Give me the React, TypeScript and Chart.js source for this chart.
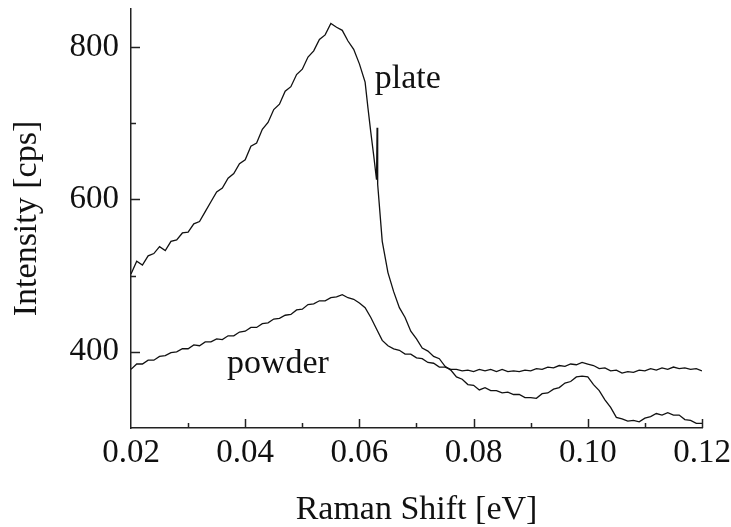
import React, { useEffect, useRef } from "react";
import { Chart, registerables } from "chart.js";

Chart.register(...registerables);

// Raman shift [eV] sampling for the "plate" spectrum (includes the narrow spike near 0.063)
const plateX = [
  0.02, 0.021, 0.022, 0.023, 0.024, 0.025, 0.026, 0.027, 0.028, 0.029,
  0.03, 0.031, 0.032, 0.033, 0.034, 0.035, 0.036, 0.037, 0.038, 0.039,
  0.04, 0.041, 0.042, 0.043, 0.044, 0.045, 0.046, 0.047, 0.048, 0.049,
  0.05, 0.051, 0.052, 0.053, 0.054, 0.055, 0.056, 0.057, 0.058, 0.059,
  0.06, 0.061, 0.0615, 0.062, 0.0625, 0.063, 0.0631, 0.0632, 0.064, 0.065,
  0.066, 0.067, 0.068, 0.069, 0.07, 0.071, 0.072, 0.073, 0.074, 0.075,
  0.076, 0.077, 0.078, 0.079, 0.08, 0.081, 0.082, 0.083, 0.084, 0.085,
  0.086, 0.087, 0.088, 0.089, 0.09, 0.091, 0.092, 0.093, 0.094, 0.095,
  0.096, 0.097, 0.098, 0.099, 0.1, 0.101, 0.102, 0.103, 0.104, 0.105,
  0.106, 0.107, 0.108, 0.109, 0.11, 0.111, 0.112, 0.113, 0.114, 0.115,
  0.116, 0.117, 0.118, 0.119, 0.12,
];
const plateY = [
  502, 519, 514, 526, 529, 538, 533, 545, 547, 556,
  557, 568, 571, 584, 597, 610, 615, 628, 634, 647,
  652, 670, 674, 692, 701, 718, 725, 742, 748, 764,
  771, 787, 795, 810, 816, 831, 826, 822, 808, 797,
  778, 754, 720, 688, 658, 626, 694, 620, 545, 504,
  479, 458, 445, 427, 417, 405, 401, 394, 391, 381,
  376, 367, 364, 357, 356, 350, 353, 349, 349, 346,
  347, 344, 344, 340, 340, 339, 345, 346, 351, 353,
  359, 361, 367, 368, 367, 357, 349, 337, 327, 314,
  312, 309, 310, 308, 313, 315, 319, 317, 320, 317,
  317, 311, 310, 306, 306,
];

// Raman shift [eV] sampling for the "powder" spectrum
const powderX = [
  0.02, 0.021, 0.022, 0.023, 0.024, 0.025, 0.026, 0.027, 0.028, 0.029,
  0.03, 0.031, 0.032, 0.033, 0.034, 0.035, 0.036, 0.037, 0.038, 0.039,
  0.04, 0.041, 0.042, 0.043, 0.044, 0.045, 0.046, 0.047, 0.048, 0.049,
  0.05, 0.051, 0.052, 0.053, 0.054, 0.055, 0.056, 0.057, 0.058, 0.059,
  0.06, 0.061, 0.062, 0.063, 0.064, 0.065, 0.066, 0.067, 0.068, 0.069,
  0.07, 0.071, 0.072, 0.073, 0.074, 0.075, 0.076, 0.077, 0.078, 0.079,
  0.08, 0.081, 0.082, 0.083, 0.084, 0.085, 0.086, 0.087, 0.088, 0.089,
  0.09, 0.091, 0.092, 0.093, 0.094, 0.095, 0.096, 0.097, 0.098, 0.099,
  0.1, 0.101, 0.102, 0.103, 0.104, 0.105, 0.106, 0.107, 0.108, 0.109,
  0.11, 0.111, 0.112, 0.113, 0.114, 0.115, 0.116, 0.117, 0.118, 0.119,
  0.12,
];
const powderY = [
  377, 384, 384, 389, 389, 394, 395, 399, 400, 404,
  404, 409, 408, 413, 413, 417, 416, 421, 421, 426,
  427, 432, 432, 437, 438, 443, 444, 448, 449, 455,
  456, 462, 463, 467, 467, 471, 472, 475, 471, 469,
  464, 458, 445, 430, 415, 408, 404, 402, 397, 397,
  392, 391, 386, 385, 380, 380, 377, 377, 375, 376,
  374, 377, 375, 377, 374, 377, 374, 375, 374, 376,
  375, 378, 377, 380, 379, 382, 381, 384, 383, 386,
  384, 382, 378, 379, 375, 376, 372, 374, 373, 376,
  375, 378, 376, 379, 377, 380, 378, 379, 377, 378,
  375,
];

const xTickMin = 0.02;
const xTickMax = 0.12;
const xTickStep = 0.01;
const yTickMin = 300;
const yTickMax = 850;
const yTickStep = 100;

const xTitle = "Raman Shift [eV]";
const yTitle = "Intensity [cps]";

const noteTexts = ["plate", "powder"];
const noteX = [0.0627, 0.0368];
const noteY = [746, 372];

const FONT = '"Liberation Serif", "DejaVu Serif", serif';

const overlayPlugin = {
  id: "overlay",
  afterDraw(chart: any) {
    const ctx = chart.ctx;
    const xs = chart.scales.x;
    const ys = chart.scales.y;
    ctx.save();
    ctx.strokeStyle = "#222";
    ctx.lineWidth = 1.5;
    xs.ticks.forEach((t: any) => {
      const n = Math.round(t.value * 100);
      if (n <= 2) return;
      const px = Math.round(xs.getPixelForValue(t.value)) + 0.5;
      const len = n % 2 === 0 ? 9 : 5;
      ctx.beginPath();
      ctx.moveTo(px, xs.top);
      ctx.lineTo(px, xs.top - len);
      ctx.stroke();
    });
    ys.ticks.forEach((t: any) => {
      const v = Math.round(t.value);
      if (v % 100 !== 0 || v <= 300) return;
      const py = Math.round(ys.getPixelForValue(t.value)) + 0.5;
      const len = v % 200 === 0 ? 9 : 5;
      ctx.beginPath();
      ctx.moveTo(ys.right, py);
      ctx.lineTo(ys.right + len, py);
      ctx.stroke();
    });
    ctx.fillStyle = "#111";
    ctx.font = `34px ${FONT}`;
    ctx.textBaseline = "alphabetic";
    ctx.textAlign = "left";
    noteTexts.forEach((txt, i) => {
      ctx.fillText(txt, xs.getPixelForValue(noteX[i]), ys.getPixelForValue(noteY[i]));
    });
    ctx.restore();
  },
};

export default function App() {
  const ref = useRef<HTMLCanvasElement | null>(null);
  useEffect(() => {
    if (!ref.current) return;
    const chart = new Chart(ref.current, {
      type: "line",
      data: {
        datasets: [
          {
            label: "plate",
            data: plateX.map((x, i) => ({ x, y: plateY[i] })),
            borderColor: "#111",
            borderWidth: 1.3,
            pointRadius: 0,
            tension: 0,
          },
          {
            label: "powder",
            data: powderX.map((x, i) => ({ x, y: powderY[i] })),
            borderColor: "#111",
            borderWidth: 1.3,
            pointRadius: 0,
            tension: 0,
          },
        ],
      },
      options: {
        animation: false,
        responsive: true,
        maintainAspectRatio: false,
        layout: { padding: { top: 9, right: 29, left: 0, bottom: 0 } },
        plugins: { legend: { display: false }, tooltip: { enabled: false } },
        scales: {
          x: {
            type: "linear",
            min: xTickMin,
            max: xTickMax,
            grid: { display: false, drawTicks: false, tickLength: 0 },
            border: { display: true, color: "#222", width: 1.5 },
            ticks: {
              stepSize: xTickStep,
              autoSkip: false,
              maxRotation: 0,
              padding: 6,
              color: "#111",
              font: { family: FONT, size: 33 },
              callback: (v: any) => {
                const n = Math.round(Number(v) * 100);
                return n % 2 === 0 ? (n / 100).toFixed(2) : "";
              },
            },
            title: {
              display: true,
              text: xTitle,
              color: "#111",
              font: { family: FONT, size: 34, lineHeight: 1 },
              padding: { top: 1, bottom: 0 },
            },
            afterFit: (s: any) => {
              s.height = 99;
              s.paddingLeft = 0;
              s.paddingRight = 0;
            },
          },
          y: {
            type: "linear",
            min: yTickMin,
            max: yTickMax,
            grid: { display: false, drawTicks: false, tickLength: 0 },
            border: { display: true, color: "#222", width: 1.5 },
            ticks: {
              stepSize: yTickStep,
              autoSkip: false,
              padding: 12,
              color: "#111",
              font: { family: FONT, size: 33 },
              callback: (v: any) => {
                const n = Math.round(Number(v));
                return n % 200 === 0 && n >= 400 ? String(n) : "";
              },
            },
            title: {
              display: true,
              text: yTitle,
              color: "#111",
              font: { family: FONT, size: 34, lineHeight: 1 },
              padding: { top: 10, bottom: 0 },
            },
            afterFit: (s: any) => {
              s.width = 131;
              s.paddingTop = 0;
              s.paddingBottom = 0;
            },
          },
        },
      },
      plugins: [overlayPlugin],
    });
    return () => chart.destroy();
  }, []);
  return (
    <div
      style={{
        position: "fixed",
        left: 0,
        top: 0,
        width: 731,
        height: 527,
        background: "#fff",
      }}
    >
      <canvas ref={ref} />
    </div>
  );
}
